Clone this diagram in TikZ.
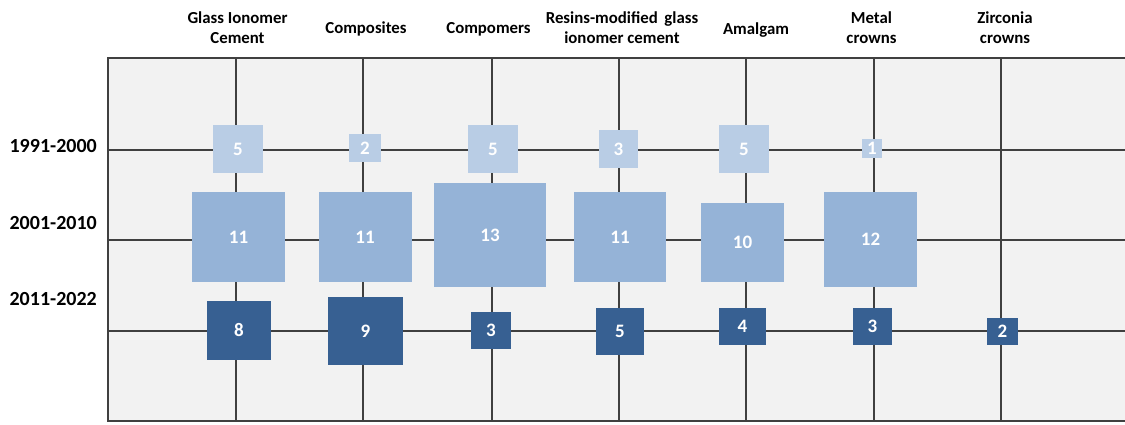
\documentclass[tikz,border=0pt]{standalone}
\usepackage{fontspec}
\setmainfont{Carlito}
\definecolor{bgc}{HTML}{F2F2F2}
\definecolor{gridc}{HTML}{404040}
\definecolor{lightb}{HTML}{B9CDE5}
\definecolor{midb}{HTML}{95B3D7}
\definecolor{darkb}{HTML}{376092}
\tikzset{
  gridline/.style={draw=gridc,line width=1.2pt},
  sq/.style={inner sep=0pt,outer sep=0pt,text=white,font=\fontsize{19}{22}\selectfont\bfseries},
  r1/.style={sq,fill=lightb},
  r2/.style={sq,fill=midb},
  r3/.style={sq,fill=darkb},
  collab/.style={align=center,font=\fontsize{16.8}{20}\selectfont\bfseries,inner sep=0pt},
  rowlab/.style={anchor=east,font=\fontsize{20}{22}\selectfont\bfseries,inner sep=0pt},
}
\newcommand{\sqn}[6]{\node[#1,minimum width=#4pt,minimum height=#5pt] (#2) at #3 {#6};}
\begin{document}
\begin{tikzpicture}[x=1pt,y=-1pt]
\useasboundingbox (0,0) rectangle (1125,424);
\fill[bgc] (108,58) rectangle (1125,421);
% frame coordinates
\coordinate (tl) at (108,58);
\coordinate (bl) at (108,421);
\coordinate (tr) at (1125,58);
\coordinate (br) at (1125,421);
\draw[gridline] (tr) -- (tl) -- (bl) -- (br);
% column lines
\foreach \i/\x in {1/236,2/363,3/492,4/619,5/746,6/874,7/1001}{
  \coordinate (ct\i) at (\x,58);
  \coordinate (cb\i) at (\x,421);
  \draw[gridline] (ct\i) -- (cb\i);
}
% row lines
\foreach \j/\y in {1/150,2/240,3/331}{
  \coordinate (rl\j) at (108,\y);
  \coordinate (rr\j) at (1125,\y);
  \draw[gridline] (rl\j) -- (rr\j);
}
% row 1991-2000
\sqn{r1}{a1}{(238,149)}{50}{48}{5}
\sqn{r1}{b1}{(365,148)}{32}{28}{2}
\sqn{r1}{c1}{(493,149)}{50}{48}{5}
\sqn{r1}{d1}{(618.5,149)}{39}{38}{3}
\sqn{r1}{e1}{(744,149)}{50}{48}{5}
\sqn{r1}{f1}{(872,148.5)}{20}{19}{1}
% row 2001-2010
\sqn{r2}{a2}{(238.5,237)}{93}{90}{11}
\sqn{r2}{b2}{(365,237)}{93}{90}{11}
\sqn{r2}{c2}{(490,235)}{112}{104}{13}
\sqn{r2}{d2}{(620,237)}{92}{90}{11}
\sqn{r2}{e2}{(742.5,242.5)}{83}{79}{10}
\sqn{r2}{f2}{(870.5,239.5)}{93}{95}{12}
% row 2011-2022
\sqn{r3}{a3}{(239,330.5)}{64}{59}{8}
\sqn{r3}{b3}{(365.5,331)}{75}{68}{9}
\sqn{r3}{c3}{(491,330.5)}{40}{37}{3}
\sqn{r3}{d3}{(620,331.5)}{48}{47}{5}
\sqn{r3}{e3}{(742.5,326.5)}{47}{37}{4}
\sqn{r3}{f3}{(872.5,326.5)}{39}{37}{3}
\sqn{r3}{g3}{(1002.5,331.5)}{31}{27}{2}
% column labels
\node[collab] (l1) at (237.5,28) {Glass Ionomer\\Cement};
\node[collab] (l2) at (366,29) {Composites};
\node[collab] (l3) at (488.5,29) {Compomers};
\node[collab] (l4) at (622,28) {Resins-modified\, glass\\ionomer cement};
\node[collab] (l5) at (756,30) {Amalgam};
\node[collab] (l6) at (871.5,28) {Metal\\crowns};
\node[collab] (l7) at (1005,28) {Zirconia\\crowns};
% row labels
\node[rowlab] (y1) at (97,146) {1991-2000};
\node[rowlab] (y2) at (97,223) {2001-2010};
\node[rowlab] (y3) at (97,299) {2011-2022};
\end{tikzpicture}
\end{document}
